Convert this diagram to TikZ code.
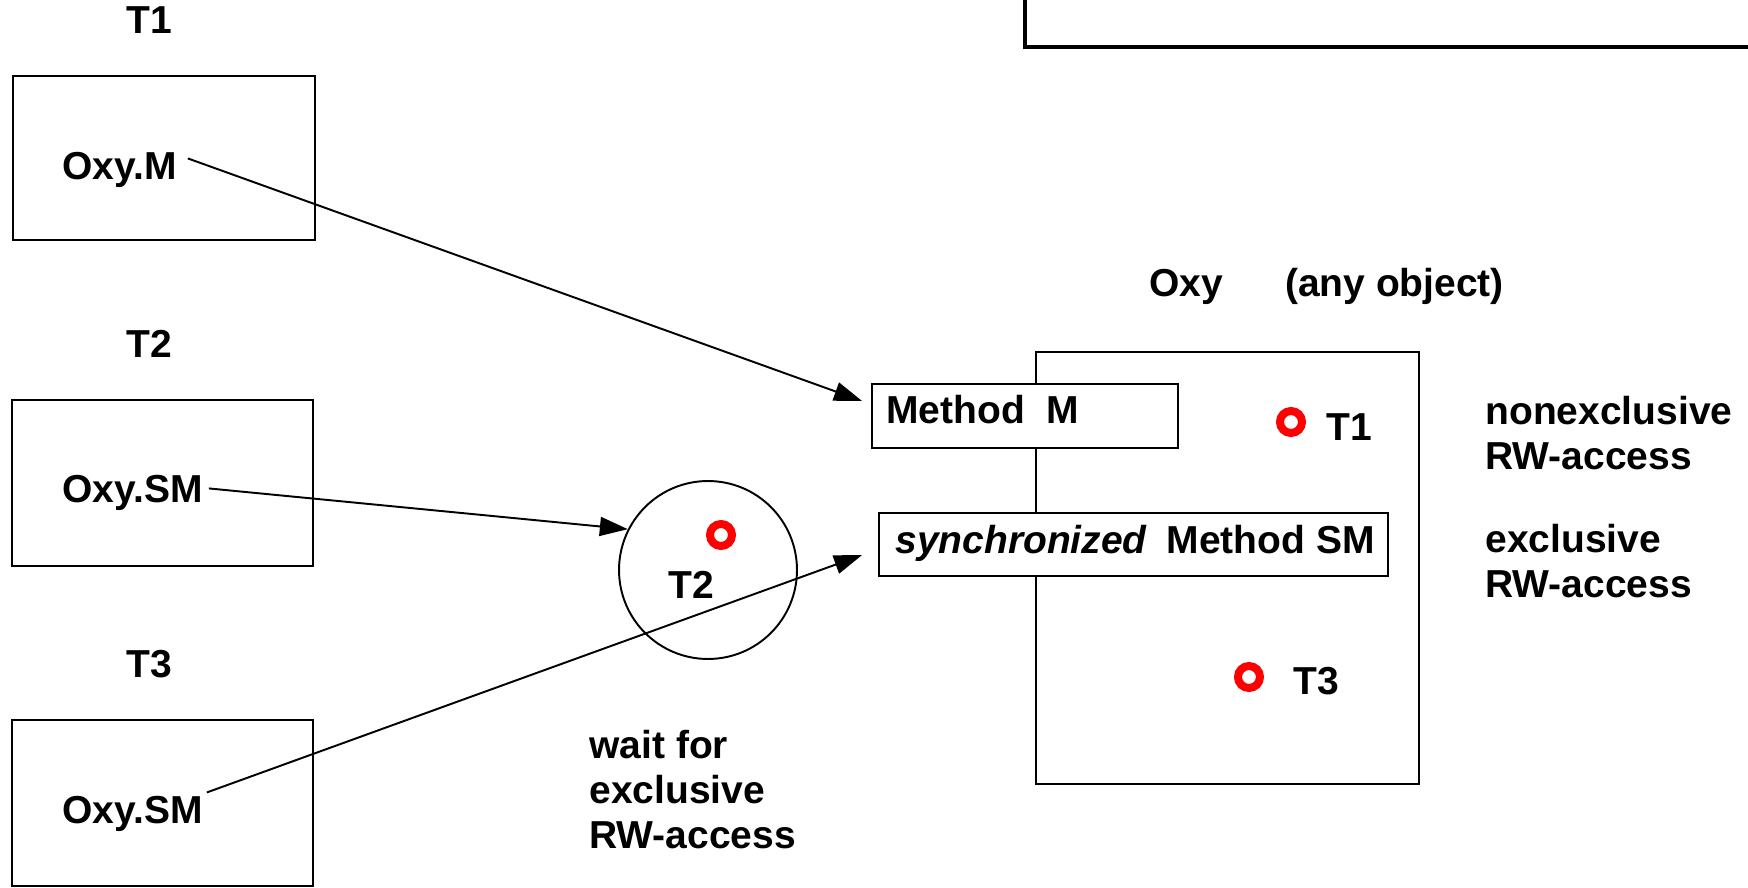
\documentclass[tikz,border=0pt]{standalone}
\usepackage{fontspec}
\setmainfont{Liberation Sans}
\usetikzlibrary{positioning,arrows.meta}
\begin{document}
\begin{tikzpicture}[x=0.02cm, y=-0.02cm,
		font=\bfseries\fontsize{22.2}{25.6}\selectfont,
		box/.style = {draw, line width=1.1pt, inner sep=0pt},
		txt/.style = {inner sep=0pt, anchor=base west},
		multi/.style = {inner sep=0pt, anchor=north west, align=left},
		ring/.style = {draw=red, circle, line width=0.16cm, minimum size=0.44cm, inner sep=0pt},
		arr/.style = {-{Triangle[length=0.56cm,width=0.38cm]}, line width=1.1pt}]
	\useasboundingbox (0,0) rectangle (1748,888);
	% note box, cut off at the top
	\node[draw, line width=2.3pt, anchor=south west, minimum width=16cm, minimum height=3cm] (note) at (1023,49) {};
	% threads
	\node[box, minimum width=6.04cm, minimum height=3.28cm] (box1) at (164,158) {};
	\node[box, minimum width=6.02cm, minimum height=3.32cm] (box2) at (162.5,483) {};
	\node[box, minimum width=6.02cm, minimum height=3.32cm] (box3) at (162.5,803) {};
	\node[inner sep=0pt, above=0.82cm of box1, xshift=-0.3cm] (t1) {T1};
	\node[inner sep=0pt, above=0.82cm of box2, xshift=-0.27cm] (t2) {T2};
	\node[inner sep=0pt, above=0.82cm of box3, xshift=-0.27cm] (t3) {T3};
	\node[txt] (oxym) at (62,180) {Oxy.M};
	\node[txt] (oxysm2) at (62,502) {Oxy.SM};
	\node[txt] (oxysm3) at (62,823) {Oxy.SM};
	% waiting room
	\node[draw, circle, line width=1.1pt, minimum size=3.56cm, inner sep=0pt] (wait) at (708,570) {};
	\node[ring] (r2) at (721,535) {};
	\node[txt] (t2in) at (668,598) {T2};
	\node[multi] (waitlbl) at (589,730) {wait for\\exclusive\\RW-access};
	% the object
	\node[txt] (oxylbl) at (1149,297) {Oxy\hspace{1.24cm}(any object)};
	\node[box, minimum width=7.66cm, minimum height=8.64cm] (oxy) at (1227.5,568) {};
	\node[box, fill=white, minimum width=6.12cm, minimum height=1.28cm] (methM) at (1025,416) {};
	\node[box, fill=white, minimum width=10.18cm, minimum height=1.26cm] (sync) at (1133.5,544.5) {};
	\node[txt] (mlbl) at (886,423) {Method\hspace{0.42cm}M};
	\node[txt] (smlbl) at (895,553) {{\itshape synchronized}\hspace{0.4cm}Method SM};
	\node[ring] (r1) at (1291,422) {};
	\node[txt] (t1in) at (1326,440) {T1};
	\node[ring] (r3) at (1249,677) {};
	\node[txt] (t3in) at (1293,694) {T3};
	\node[multi] (nonex) at (1485,396) {nonexclusive\\RW-access};
	\node[multi] (excl) at (1485,524) {exclusive\\RW-access};
	% calls
	\draw[arr] ([xshift=0.22cm,yshift=0.24cm]oxym.east) -- ([xshift=-0.18cm,yshift=0.3cm]methM.west);
	\draw[arr] ([xshift=0.12cm,yshift=0.08cm]oxysm2.east) -- (wait.153);
	\draw[arr] ([xshift=0.08cm,yshift=0.42cm]oxysm3.east) -- ([xshift=-0.32cm,yshift=-0.21cm]sync.west);
\end{tikzpicture}
\end{document}
